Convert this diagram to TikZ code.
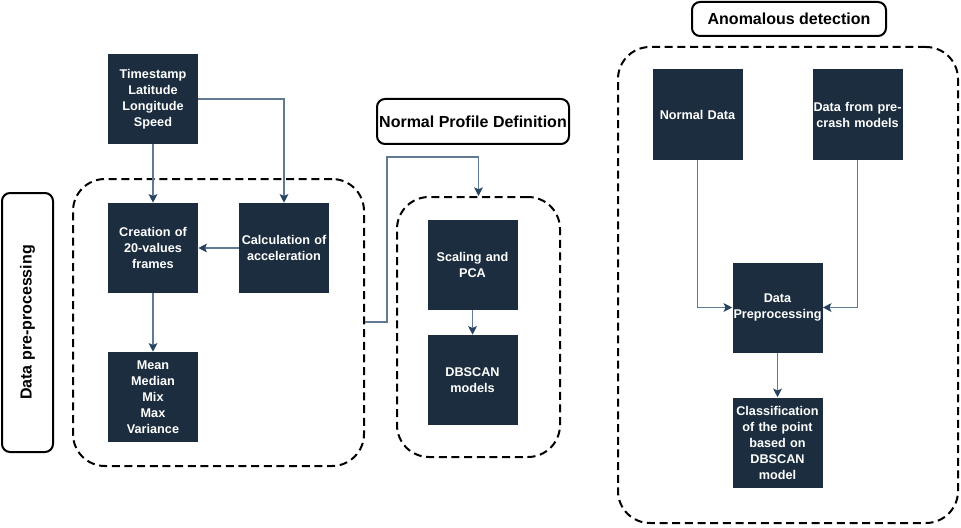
\documentclass[tikz,border=0pt]{standalone}
\usepackage{fontspec}
\setmainfont{Liberation Sans}
\usetikzlibrary{arrows.meta}
\definecolor{boxfill}{HTML}{1B2D3E}
\definecolor{linecol}{HTML}{607A93}
\definecolor{tipcol}{HTML}{264461}
\begin{document}
\begin{tikzpicture}[x=0.75pt,y=-0.75pt,
  darkbox/.style={fill=boxfill,draw=none,minimum width=67.5pt,minimum height=67.5pt,inner sep=0pt,text width=67pt,align=center,text=white,font=\fontsize{9.5}{12}\selectfont\bfseries},
  container/.style={draw=black,line width=1.5pt,dash pattern=on 6pt off 3.5pt,rounded corners=24pt},
  titlebox/.style={draw=black,line width=1.5pt,rounded corners=6pt,inner sep=0pt,font=\fontsize{12}{14}\selectfont\bfseries},
  conn/.style={draw=linecol,line width=0.9pt,-{Stealth[length=6.5pt,width=6.5pt,inset=1.5pt,color=tipcol]}}]
\useasboundingbox (0,0) rectangle (961,528);
% containers
\node[container,minimum width=218.25pt,minimum height=215.25pt] (c1) at (218.5,322.5) {};
\node[container,minimum width=122.25pt,minimum height=195pt] (c2) at (478.5,327) {};
\node[container,minimum width=255pt,minimum height=357pt] (c3) at (788,285) {};
% titles
\node[titlebox,minimum width=38.25pt,minimum height=194.25pt] (t1) at (27.5,322.5) {};
\node[rotate=90,font=\fontsize{12}{14}\selectfont\bfseries] (t1txt) at (t1.center) {Data pre-processing};
\node[titlebox,minimum width=144pt,minimum height=33.75pt] (t2) at (473,121.5) {Normal Profile Definition};
\node[titlebox,minimum width=145.5pt,minimum height=25.5pt] (t3) at (789,19) {Anomalous detection};
% boxes
\node[darkbox] (ts) at (153,99) {Timestamp\\Latitude\\Longitude\\Speed};
\node[darkbox] (cr) at (153,248) {Creation of\\20-values\\frames};
\node[darkbox] (ca) at (284,248) {Calculation of\\acceleration};
\node[darkbox] (mn) at (153,397) {Mean\\Median\\Mix\\Max\\Variance};
\node[darkbox] (sc) at (472.5,265) {Scaling and\\PCA};
\node[darkbox] (db) at (472.5,380) {DBSCAN\\models};
\node[darkbox] (nd) at (697.5,114.5) {Normal Data};
\node[darkbox] (pc) at (857.5,114.5) {Data from pre-\\crash models};
\node[darkbox] (dp) at (777.5,307.5) {Data\\Preprocessing};
\node[darkbox] (cl) at (777.5,442.5) {Classification\\of the point\\based on\\DBSCAN\\model};
% connectors
\draw[conn] (ts.south) -- (cr.north);
\draw[conn] (ts.east |- 0,99) -| (ca.north);
\draw[conn] (ca.west) -- (cr.east);
\draw[conn] (cr.south) -- (mn.north);
\draw[conn] (sc.south) -- (db.north);
\draw[conn] (c1.east |- 0,322) -- (387,322) -- (387,157) -| (c2.north);
\draw[conn] (nd.south) |- (dp.west);
\draw[conn] (pc.south) |- (dp.east);
\draw[conn] (dp.south) -- (cl.north);
\end{tikzpicture}
\end{document}
